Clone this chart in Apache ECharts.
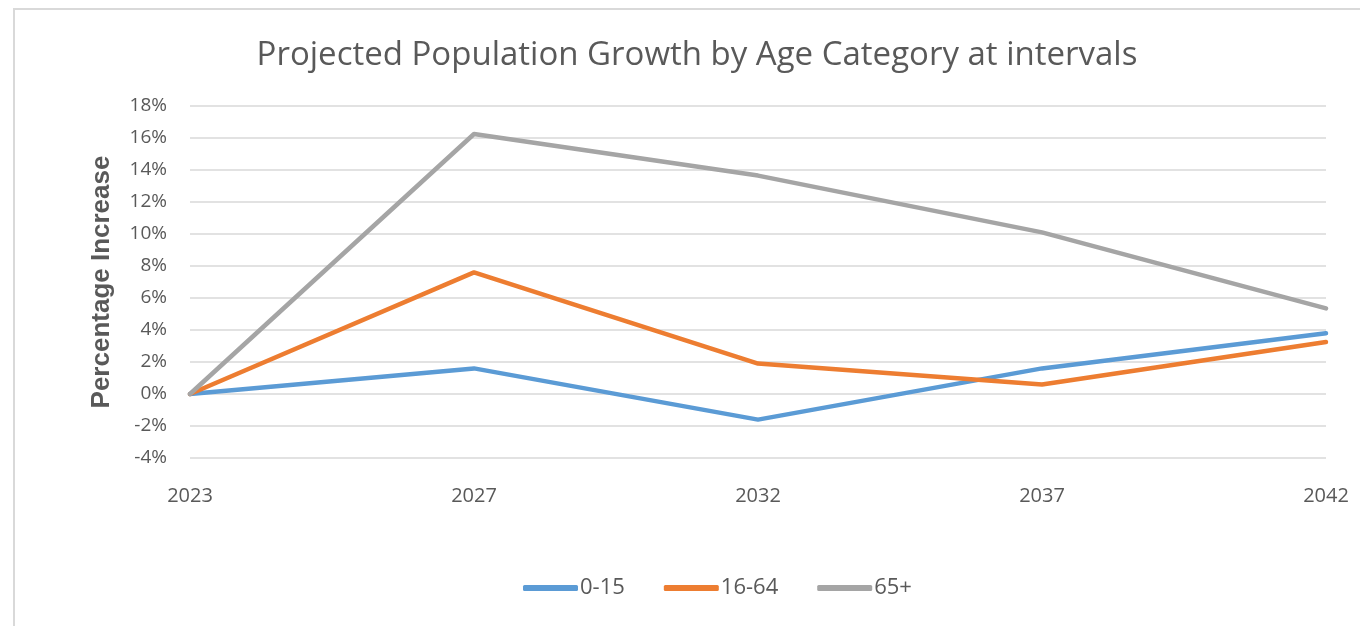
<!DOCTYPE html>
<html>
<head>
<meta charset="utf-8">
<script src="https://cdn.jsdelivr.net/npm/echarts@6/dist/echarts.min.js"></script>
<style>
  html, body { margin: 0; padding: 0; background: #fff; }
  #frame { position: absolute; left: 13px; top: 8px; width: 1500px; height: 800px;
           border-left: 2px solid #d9d9d9; border-top: 2px solid #d9d9d9; }
  #chart { position: absolute; left: 0; top: 0; width: 1360px; height: 626px; }
</style>
</head>
<body>
<div id="frame"></div>
<div id="chart"></div>
<script>
// Years along the x axis
const years = ['2023', '2027', '2032', '2037', '2042'];
// Percentage increase per age group
const age0to15 = [0, 1.6, -1.6, 1.6, 3.8];
const age16to64 = [0, 7.6, 1.9, 0.6, 3.25];
const age65plus = [0, 16.25, 13.65, 10.1, 5.35];

const textColor = '#595959';
const font = 'Open Sans';

const chart = echarts.init(document.getElementById('chart'));

function lineSeries(name, data, color) {
  return {
    name, type: 'line', data,
    symbol: 'none',
    lineStyle: { width: 4.5, color, cap: 'round', join: 'round' },
    itemStyle: { color }
  };
}

chart.setOption({
  animation: false,
  title: {
    text: 'Projected Population Growth by Age Category at intervals',
    left: 692, top: 34, textAlign: 'center',
    textStyle: { fontFamily: font, fontWeight: 400, fontSize: 33, color: textColor }
  },
  grid: { left: 190, right: 34, top: 106, bottom: 168 },
  legend: {
    top: 572, left: 518,
    itemWidth: 55, itemHeight: 6, itemGap: 39,
    icon: 'roundRect',
    textStyle: { fontFamily: font, fontSize: 22, color: textColor, padding: [0, 0, 0, -3] },
    data: ['0-15', '16-64', '65+']
  },
  xAxis: {
    type: 'category', data: years, boundaryGap: false,
    axisLine: { show: false }, axisTick: { show: false },
    axisLabel: { fontFamily: font, fontSize: 20, color: textColor, margin: 28,
                 showMinLabel: true, showMaxLabel: true }
  },
  yAxis: {
    type: 'value', min: -4, max: 18, interval: 2,
    name: 'Percentage Increase', nameLocation: 'middle', nameGap: 75,
    nameTextStyle: { fontFamily: 'Liberation Sans', fontWeight: 'bold', fontSize: 26, color: textColor },
    axisLine: { show: false }, axisTick: { show: false },
    axisLabel: { formatter: '{value}%', fontFamily: font, fontSize: 19, color: textColor, margin: 23 },
    splitLine: { lineStyle: { color: '#d9d9d9', width: 1.5 } }
  },
  series: [
    lineSeries('0-15', age0to15, '#5B9BD5'),
    lineSeries('16-64', age16to64, '#ED7D31'),
    lineSeries('65+', age65plus, '#A5A5A5')
  ]
});
</script>
</body>
</html>
